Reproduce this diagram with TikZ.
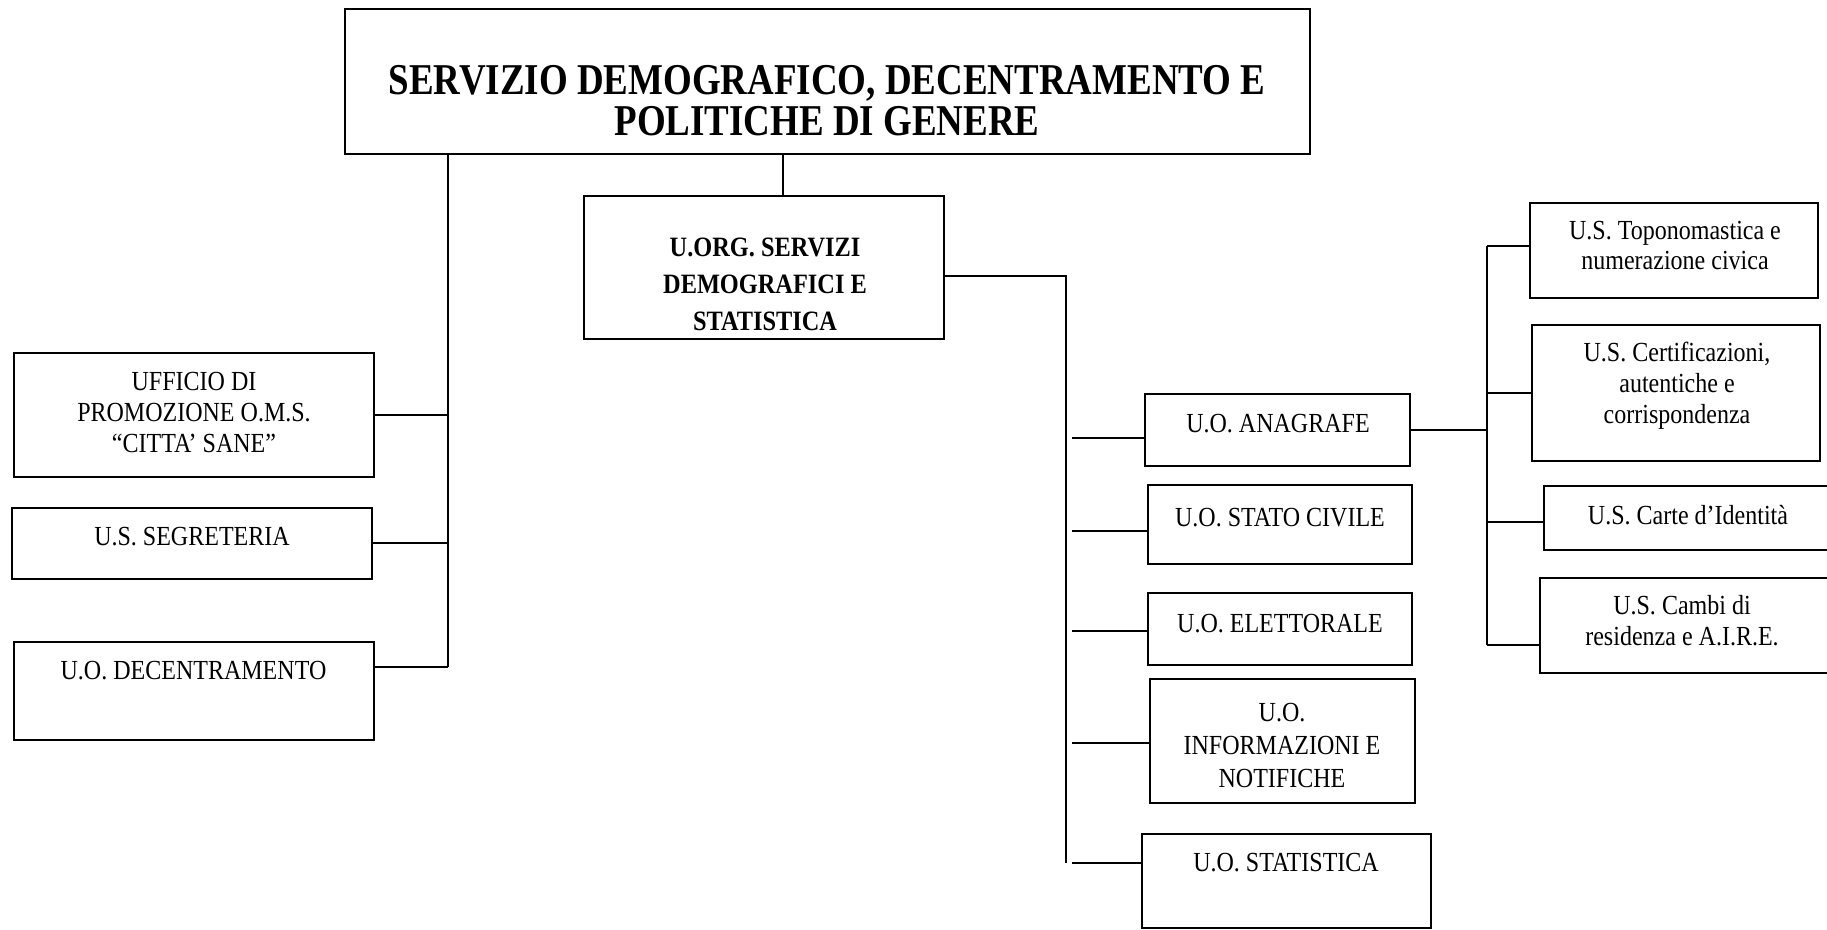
\documentclass[tikz,border=0pt]{standalone}
\usepackage{fontspec}
\setmainfont{Liberation Serif}[FakeStretch=0.87]
\newfontfamily\headfont{Liberation Serif}[FakeStretch=0.84]
\usepackage{tikz}
\tikzstyle{BoxUnit}=[draw,line width=1.1pt,inner sep=0pt]
\tikzstyle{TextUnit}=[align=center,inner sep=0pt,font=\fontsize{13.8}{15.5}\selectfont]
\tikzstyle{TextHead}=[align=center,inner sep=0pt,font=\headfont\fontsize{22}{20.5}\selectfont\bfseries]
\tikzstyle{TextOrg}=[align=center,inner sep=0pt,font=\fontsize{14}{18.5}\selectfont\bfseries]
\tikzstyle{LinkOrg}=[line width=1pt]

\begin{document}
\begin{tikzpicture}[x=0.5pt,y=-0.5pt]
        \useasboundingbox(0,0)rectangle(1827,930);
        % boxes
        \node[BoxUnit,minimum width=482.5pt,minimum height=72.5pt](head)at(827.5,81.5){};
        \node[BoxUnit,minimum width=180pt,minimum height=62pt](ufficio)at(194,415){};
        \node[BoxUnit,minimum width=180pt,minimum height=35.5pt](segreteria)at(192,543.5){};
        \node[BoxUnit,minimum width=180pt,minimum height=49pt](decentr)at(194,691){};
        \node[BoxUnit,minimum width=180pt,minimum height=71.5pt](uorg)at(764,267.5){};
        \node[BoxUnit,minimum width=132.5pt,minimum height=36pt](anag)at(1277.5,430){};
        \node[BoxUnit,minimum width=132pt,minimum height=39.5pt](stato)at(1280,524.5){};
        \node[BoxUnit,minimum width=132pt,minimum height=36pt](elett)at(1280,629){};
        \node[BoxUnit,minimum width=132.5pt,minimum height=62pt](info)at(1282.5,741){};
        \node[BoxUnit,minimum width=144.5pt,minimum height=47pt](stat)at(1286.5,881){};
        \node[BoxUnit,minimum width=144pt,minimum height=47.5pt](topo)at(1674,250.5){};
        \node[BoxUnit,minimum width=144pt,minimum height=68pt](cert)at(1676,393){};
        \node[BoxUnit,minimum width=144pt,minimum height=32pt](carte)at(1688,518){};
        \node[BoxUnit,minimum width=144pt,minimum height=47.5pt](cambi)at(1684,625.5){};
        % texts
        \node[TextHead](headT)at(827,101){SERVIZIO DEMOGRAFICO, DECENTRAMENTO E\\POLITICHE DI GENERE};
        \node[TextOrg](uorgT)at(765,284.5){U.ORG. SERVIZI\\DEMOGRAFICI E\\STATISTICA};
        \node[TextUnit](ufficioT)at(194,412){UFFICIO DI\\PROMOZIONE O.M.S.\\“CITTA’ SANE”};
        \node[TextUnit](segreteriaT)at(192,537){U.S. SEGRETERIA};
        \node[TextUnit](decentrT)at(193.5,671){U.O. DECENTRAMENTO};
        \node[TextUnit](anagT)at(1278,424){U.O. ANAGRAFE};
        \node[TextUnit](statoT)at(1280,518){U.O. STATO CIVILE};
        \node[TextUnit](elettT)at(1280,624){U.O. ELETTORALE};
        \node[TextUnit,font=\fontsize{13.8}{16.5}\selectfont](infoT)at(1282,745){U.O.\\INFORMAZIONI E\\NOTIFICHE};
        \node[TextUnit](statT)at(1286,863){U.O. STATISTICA};
        \node[TextUnit](topoT)at(1675,245.5){U.S. Toponomastica e\\numerazione civica};
        \node[TextUnit](certT)at(1677,385.5){U.S. Certificazioni,\\autentiche e\\corrispondenza};
        \node[TextUnit](carteT)at(1688,515){U.S. Carte d’Identità};
        \node[TextUnit](cambiT)at(1682,621){U.S. Cambi di\\residenza e A.I.R.E.};
        % connectors
        \coordinate(spineL)at(448,667);
        \coordinate(tapM)at(783,154);
        \coordinate(spineMtop)at(1066,276);
        \coordinate(spineM)at(1066,863);
        \coordinate(busM)at(1072,863);
        \coordinate(spineRtop)at(1487,246);
        \coordinate(spineR)at(1487,645);
        \draw[LinkOrg](head.south-|spineL)--(spineL);
        \draw[LinkOrg](ufficio.east)--(ufficio.east-|spineL);
        \draw[LinkOrg](segreteria.east)--(segreteria.east-|spineL);
        \draw[LinkOrg](decentr.east|-spineL)--(spineL);
        \draw[LinkOrg](tapM)--(uorg.north-|tapM);
        \draw[LinkOrg](uorg.east|-spineMtop)--(spineMtop)--(spineM);
        \draw[LinkOrg](anag.west|-0,438)--(busM|-0,438);
        \draw[LinkOrg](stato.west|-0,531)--(busM|-0,531);
        \draw[LinkOrg](elett.west|-0,631)--(busM|-0,631);
        \draw[LinkOrg](info.west|-0,743)--(busM|-0,743);
        \draw[LinkOrg](stat.west|-busM)--(busM);
        \draw[LinkOrg](anag.east)--(anag.east-|spineR);
        \draw[LinkOrg](spineRtop)--(spineR);
        \draw[LinkOrg](topo.west|-spineRtop)--(spineRtop);
        \draw[LinkOrg](cert.west)--(cert.west-|spineR);
        \draw[LinkOrg](carte.west|-0,522)--(spineR|-0,522);
        \draw[LinkOrg](cambi.west|-spineR)--(spineR);
    \end{tikzpicture}
\end{document}
